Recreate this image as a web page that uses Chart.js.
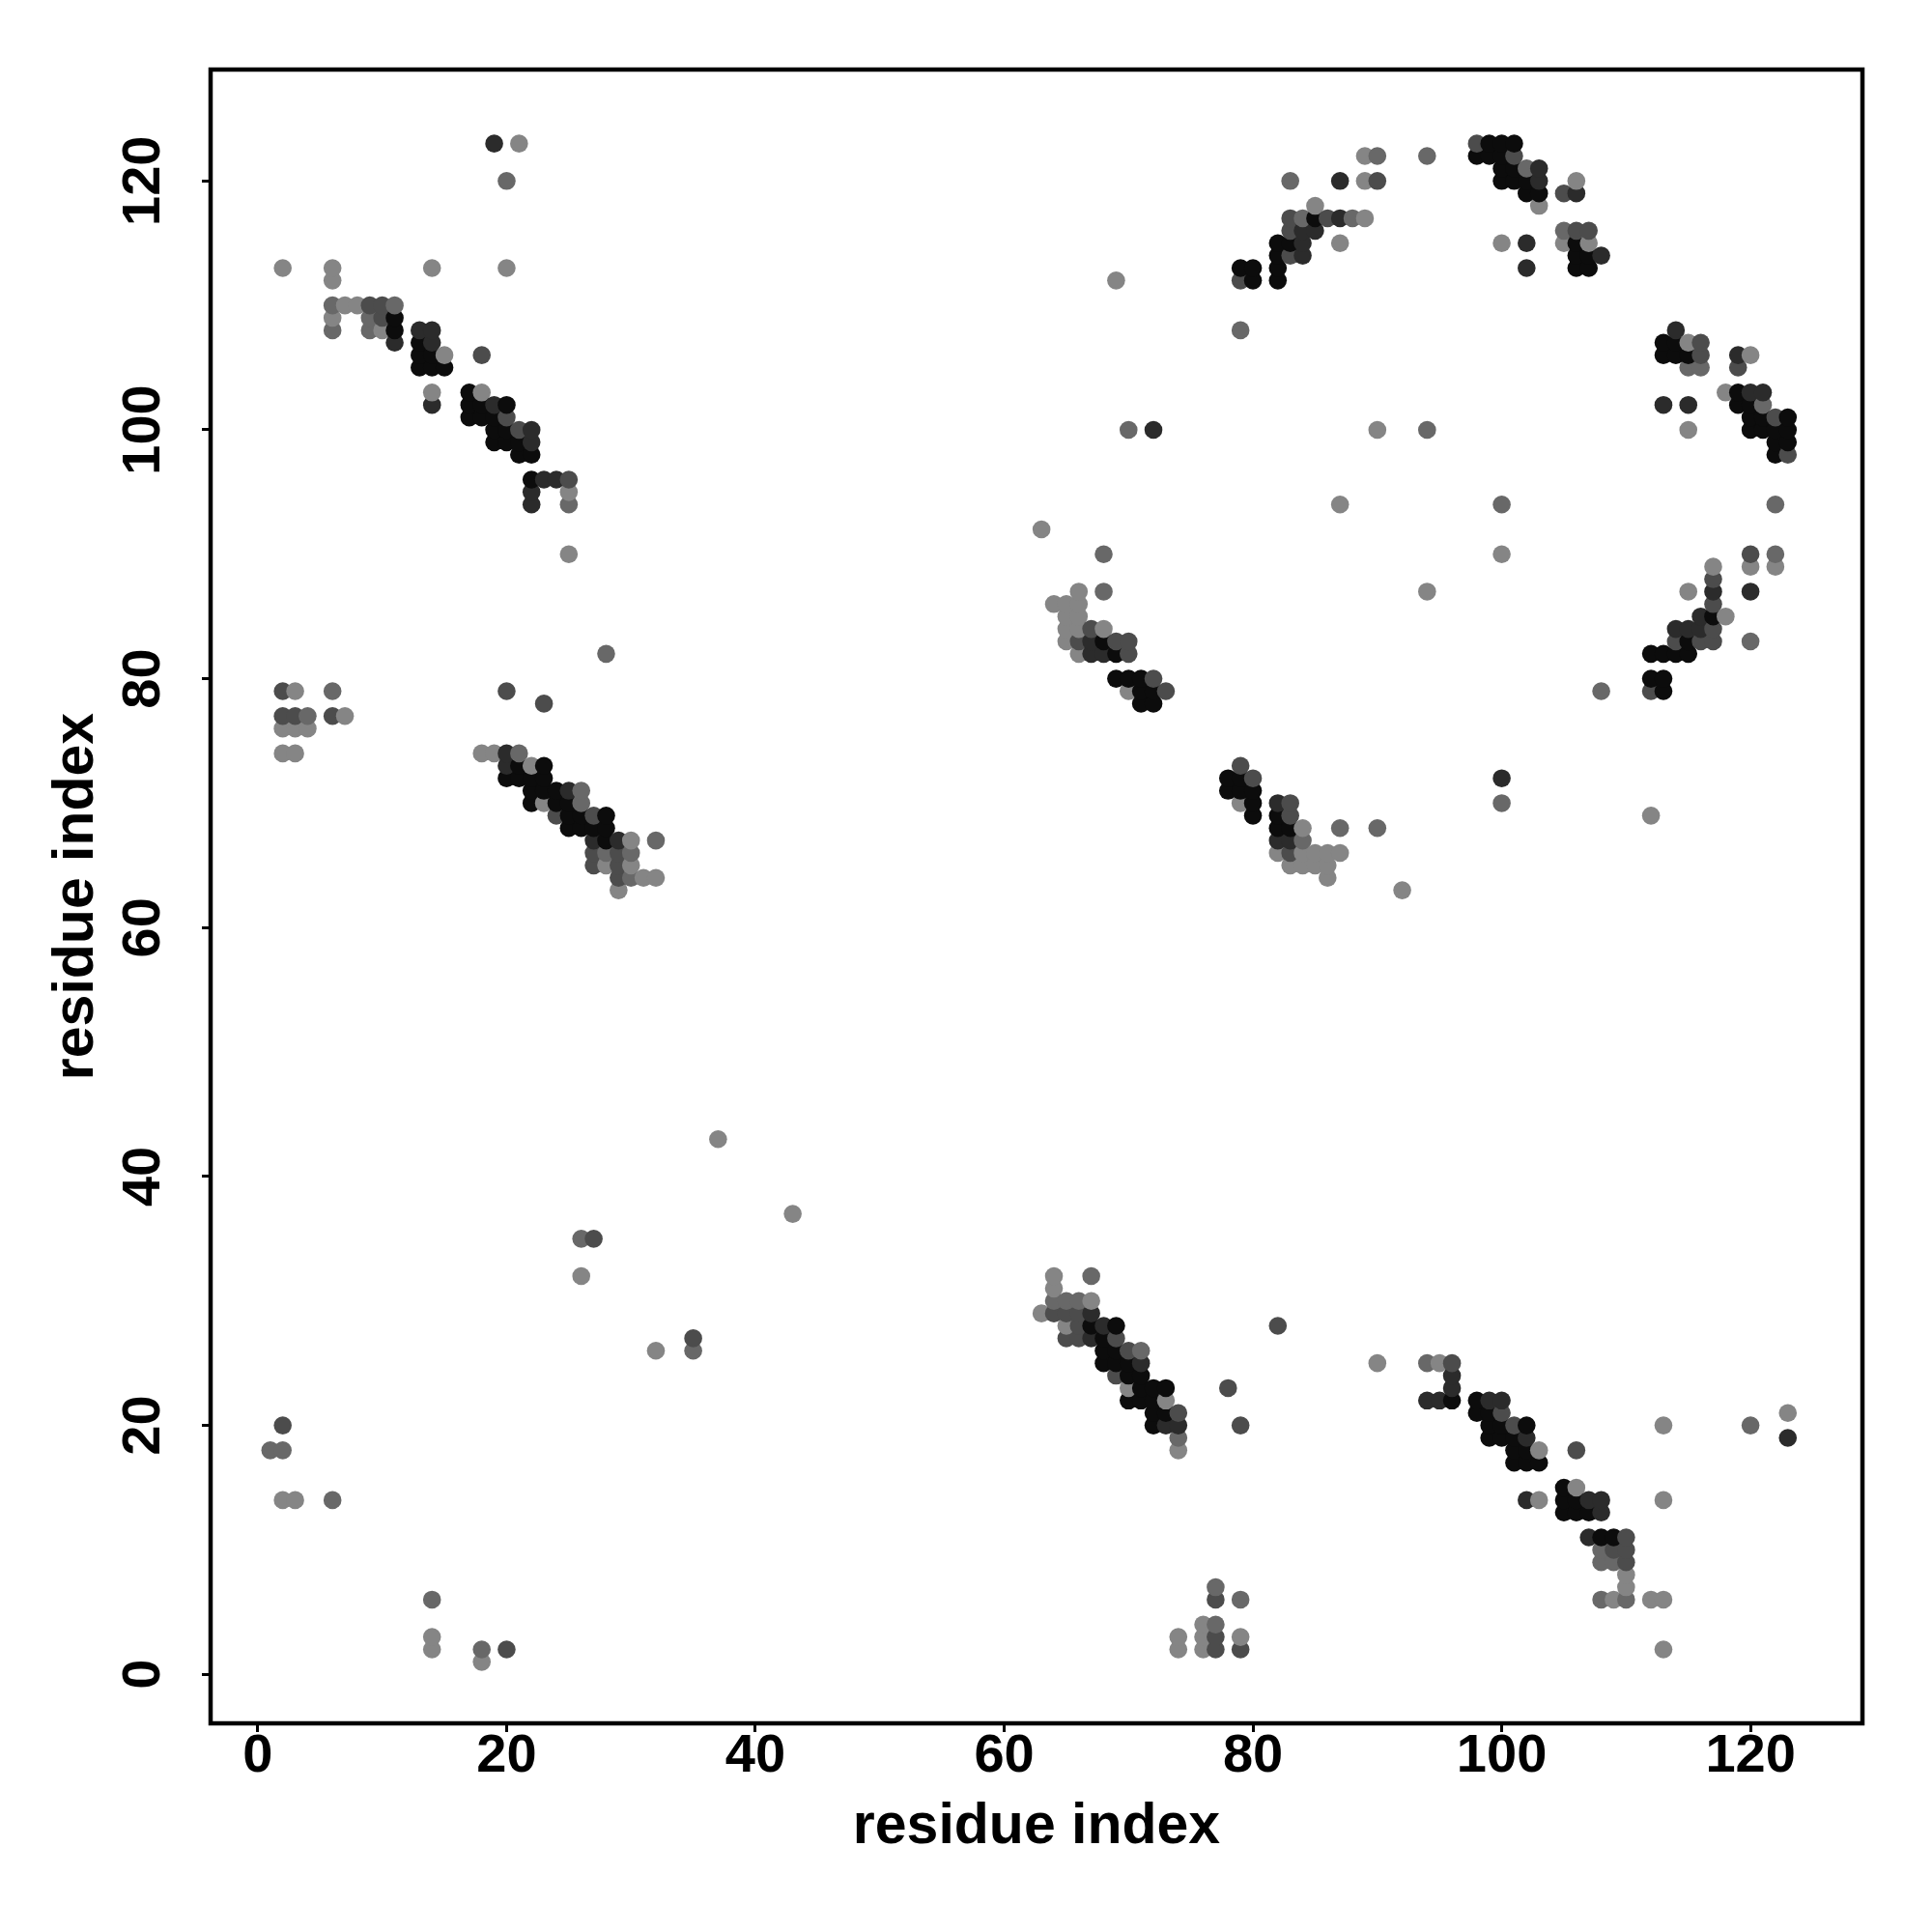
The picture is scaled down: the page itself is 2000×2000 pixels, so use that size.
<!DOCTYPE html>
<html>
<head>
<meta charset="utf-8">
<style>
  html, body { margin: 0; padding: 0; background: #fff; }
  #wrap { width: 2000px; height: 2000px; }
</style>
<script src="https://cdn.jsdelivr.net/npm/chart.js@4.4.1/dist/chart.umd.min.js"></script>
</head>
<body>
<div id="wrap"><canvas id="chart" width="2000" height="2000"></canvas></div>
<script>
const tickValues = [0, 20, 40, 60, 80, 100, 120];
const axisLabel = 'residue index';

// contacts, grouped by how dark the dot is: [i, j]
const black = [
  [11,109],[11,108],[13,107],[13,106],[14,106],[13,105],[14,105],[15,105],[17,103],[17,102],[18,102],[20,102],
  [17,101],[18,101],[19,101],[19,100],[20,100],[19,99],[20,99],[21,99],[21,98],[22,98],[22,96],
  [21,73],[23,73],[20,72],[21,72],[22,72],[23,72],[22,71],[23,71],[24,71],[22,70],[24,70],[25,70],[25,69],
  [26,69],[28,69],[25,68],[26,68],[27,68],[28,68],[28,67],
  [68,83],[69,82],[69,80],[70,80],[71,80],[71,79],[72,79],[71,78],[72,78],[78,72],[79,72],[78,71],[79,71],
  [80,71],[80,70],[80,69],[82,69],[82,68],[83,68],
  [79,113],[80,113],[82,113],[80,112],[82,112],[82,114],[82,115],[83,115],[85,117],[99,123],[100,123],[101,123],
  [98,122],[99,122],[100,122],[100,121],[101,121],[100,120],[101,120],[102,120],[102,119],[103,119],[106,115],
  [106,114],[107,114],[106,113],[107,113],
  [113,107],[114,107],[113,106],[114,106],[115,106],[119,103],[119,102],[120,102],[120,101],[121,101],[123,101],
  [120,100],[121,100],[122,100],[123,100],[122,99],[123,99],[122,98],[117,85],[115,83],[112,82],[113,82],
  [114,82],[115,82],[112,80],[113,80],[113,79],
  [67,28],[69,28],[68,27],[68,26],[69,26],[68,25],[69,25],[70,25],[70,24],[71,24],[71,23],[72,23],[73,23],
  [70,22],[71,22],[72,22],[72,21],[73,21],[72,20],
  [96,22],[98,22],[98,21],[99,21],[99,20],[100,20],[102,20],[99,19],[100,19],[101,19],[101,18],[102,18],
  [101,17],[102,17],[103,17],[105,15],[105,14],[106,14],[105,13],[106,13],[107,13],[108,11],[109,11]
];
const dark = [
  [19,123],[11,107],[13,108],[14,108],[14,107],[14,102],[19,102],[22,100],[22,99],[23,96],[24,96],[22,95],[22,94],
  [20,74],[20,73],[25,71],[27,67],[29,67],
  [67,83],[67,82],[68,82],[82,70],[82,67],[83,67],
  [84,114],[84,115],[84,116],[85,116],[87,117],[87,120],[103,121],[103,120],[106,119],[102,115],[108,114],[102,113],
  [114,108],[119,106],[120,103],[121,103],[113,102],[115,102],[117,87],[120,87],[116,85],[114,84],[115,84],[116,84],
  [67,29],[68,28],[67,27],[71,25],[73,20],[74,20],
  [96,24],[96,23],[94,22],[95,22],[99,22],[100,22],[102,19],[123,19],[102,14],[107,14],[108,14],[108,13],[107,11],
  [100,72],[72,100]
];
const mid = [
  [9,110],[10,110],[10,109],[18,106],[20,101],[21,100],[25,96],
  [20,79],[23,78],[2,79],[2,77],[3,77],[6,77],[24,69],[27,69],[27,66],[29,66],[27,65],[29,65],[29,64],
  [27,35],[35,27],[2,20],[20,2],
  [67,84],[66,83],[69,83],[70,83],[70,82],[72,80],[73,79],[79,73],[80,72],[83,70],[83,69],[83,66],
  [79,112],[83,114],[83,116],[83,117],[86,117],[90,120],[98,123],[101,122],[105,119],[106,116],[107,116],
  [116,107],[116,106],[119,105],[122,101],[123,98],[120,90],[117,88],[117,86],[117,84],[114,83],[116,83],
  [117,83],[112,79],
  [64,29],[65,29],[66,29],[66,28],[65,27],[66,27],[69,27],[70,26],[69,24],[74,21],[78,23],[79,20],[82,28],
  [77,6],[77,3],[77,2],[79,2],
  [96,25],[100,21],[101,20],[106,18],[110,11],[109,10],[110,10],[110,9]
];
const gray = [
  [20,120],[6,110],[11,110],[9,109],[6,108],[9,108],[25,94],
  [28,82],[6,79],[4,77],[21,74],[26,71],[26,70],[32,67],[28,66],[30,66],[30,64],
  [26,35],[35,26],[1,18],[2,18],[6,14],[14,6],[18,2],
  [68,90],[68,87],[84,67],[87,68],[90,68],
  [79,108],[84,117],[88,117],[83,120],[90,122],[94,122],[102,121],[105,116],
  [115,105],[116,105],[121,102],[122,94],[122,90],[120,83],[108,79],
  [67,32],[64,30],[65,30],[66,30],[71,26],[74,19],[77,7],[79,6],[77,4],
  [94,25],[120,20],[108,10],[108,9],[109,9],[108,6],[110,6],
  [94,100],[100,94],[100,70],[70,100]
];
const light = [
  [21,123],[2,113],[6,113],[6,112],[14,113],[20,113],[7,110],[8,110],[6,109],[10,108],[15,106],[14,103],
  [18,103],[25,95],[25,90],
  [3,79],[7,77],[2,76],[3,76],[4,76],[2,74],[3,74],[18,74],[19,74],[22,73],[23,70],[30,67],[28,65],[30,65],
  [31,64],[32,64],[29,63],
  [37,43],[43,37],[26,32],[32,26],[2,14],[3,14],[14,3],[14,2],[18,1],
  [63,92],[87,94],[66,87],[94,87],[64,86],[65,86],[66,86],[65,85],[66,85],[65,84],[66,84],[68,84],[65,83],
  [66,82],[70,79],[79,70],[84,68],[82,66],[84,66],[85,66],[86,66],[87,66],[83,65],[84,65],[85,65],[86,65],
  [86,64],[92,63],
  [87,115],[89,117],[85,118],[89,120],[89,122],[106,120],[103,118],[100,115],[105,115],[107,115],
  [115,107],[120,106],[118,103],[115,100],[120,89],[122,89],[117,89],[115,87],[118,85],
  [64,32],[64,31],[67,30],[63,29],[65,28],[70,23],[73,22],[74,18],[76,4],[74,3],[76,3],[79,3],[74,2],[76,2],
  [90,25],[95,25],[103,18],[113,20],[123,21],[106,15],[103,14],[113,14],[110,8],[110,7],[109,6],[112,6],
  [113,6],[113,2],
  [90,100],[100,90],[112,69],[69,112]
];

const shades = [
  [black, '#0c0c0c'],
  [dark, '#2b2b2b'],
  [mid, '#4c4c4c'],
  [gray, '#686868'],
  [light, '#858585']
];

// one dataset, drawn in order of residue i so later dots sit on top
const points = [];
shades.forEach(([list, color]) => list.forEach(p => points.push({ x: p[0], y: p[1], c: color })));
points.sort((a, b) => a.x - b.x || a.y - b.y);

const frame = {
  id: 'frame',
  afterDraw(chart) {
    const { ctx, chartArea: a } = chart;
    ctx.save();
    ctx.strokeStyle = '#000';
    ctx.lineWidth = 4.5;
    ctx.strokeRect(a.left, a.top, a.right - a.left, a.bottom - a.top);
    ctx.restore();
  }
};

const tickFont = { family: 'Liberation Sans', size: 56, weight: 'bold' };
const titleFont = { family: 'Liberation Sans', size: 59, weight: 'bold' };

new Chart(document.getElementById('chart').getContext('2d'), {
  type: 'scatter',
  data: {
    datasets: [{
      data: points.map(p => ({ x: p.x, y: p.y })),
      backgroundColor: points.map(p => p.c),
      pointRadius: 9.3,
      pointBorderWidth: 0,
      pointHoverRadius: 9.3
    }]
  },
  options: {
    responsive: false,
    animation: false,
    events: [],
    layout: { padding: { top: 72, right: 72, left: 0, bottom: 0 } },
    plugins: { legend: { display: false }, tooltip: { enabled: false } },
    scales: {
      x: {
        type: 'linear',
        min: -3.8,
        max: 129,
        afterBuildTicks: s => { s.ticks = tickValues.map(v => ({ value: v })); },
        afterFit: s => { s.height = 216; },
        grid: { drawOnChartArea: false, drawTicks: true, tickLength: 9, tickWidth: 3, tickColor: '#000' },
        border: { display: false },
        ticks: { font: tickFont, color: '#000', padding: -8, maxRotation: 0, autoSkip: false },
        title: { display: true, text: axisLabel, font: titleFont, color: '#000', padding: { top: 0, bottom: 73 } }
      },
      y: {
        type: 'linear',
        min: -3.94,
        max: 128.95,
        afterBuildTicks: s => { s.ticks = tickValues.map(v => ({ value: v })); },
        afterFit: s => { s.width = 218; },
        grid: { drawOnChartArea: false, drawTicks: true, tickLength: 9, tickWidth: 3, tickColor: '#000' },
        border: { display: false },
        ticks: { font: tickFont, color: '#000', padding: 13, minRotation: 90, maxRotation: 90, crossAlign: 'center', autoSkip: false },
        title: { display: true, text: axisLabel, font: titleFont, color: '#000', padding: { top: 44, bottom: 0 } }
      }
    }
  },
  plugins: [frame]
});
</script>
</body>
</html>
